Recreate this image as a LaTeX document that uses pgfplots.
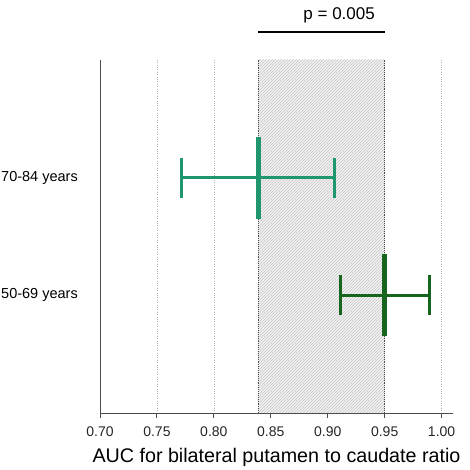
\documentclass[border=0pt]{standalone}
\usepackage{pgfplots}
\pgfplotsset{compat=1.18}
\usepackage{fontspec}
\setmainfont{Liberation Sans}
\usetikzlibrary{patterns}
\definecolor{teal1}{RGB}{32,150,110}
\definecolor{dkgreen}{RGB}{22,100,30}
\begin{document}
\begin{tikzpicture}
\begin{axis}[
  name=ax,
  scale only axis, width=353pt, height=353pt,
  xmin=0.70, xmax=1.01, ymin=0, ymax=3,
  axis lines*=left,
  axis line style={draw=black!70, line width=0.9pt},
  xtick={0.70,0.75,0.80,0.85,0.90,0.95,1.00},
  xticklabels={0.70,0.75,0.80,0.85,0.90,0.95,1.00},
  xticklabel style={font=\fontsize{14}{16}\selectfont, text=black!85, inner sep=0pt, yshift=-9pt},
  x tick style={draw=black!70, line width=0.9pt},
  tick align=outside, major tick length=5pt,
  ytick={1,2}, yticklabels={50-69 years,70-84 years},
  yticklabel style={font=\fontsize{14.5}{16}\selectfont, inner sep=0pt, xshift=-17pt},
  y tick style={draw=none},
  xmajorgrids, major grid style={dotted, gray!60},
  xlabel={AUC for bilateral putamen to caudate ratio},
  xlabel style={font=\fontsize{19.7}{22}\selectfont, at={(axis description cs:0.5,0)}, anchor=base, inner sep=0pt, yshift=-49pt},
  clip=false,
  /pgf/number format/assume math mode=true,
]
\addplot[draw=none, fill=gray!10] coordinates {(0.839,0) (0.839,3) (0.95,3) (0.95,0)} -- cycle;
\addplot[draw=none, pattern=north east lines, pattern color=gray!45] coordinates {(0.839,0) (0.839,3) (0.95,3) (0.95,0)} -- cycle;
\addplot[densely dotted, line width=1.1pt, black!70] coordinates {(0.839,0) (0.839,3)};
\addplot[densely dotted, line width=1.1pt, black!70] coordinates {(0.95,0) (0.95,3)};
\addplot[black, line width=1.5pt] coordinates {(0.839,3.24) (0.95,3.24)};
\node[font=\fontsize{17}{19}\selectfont, inner sep=0pt] at (axis cs:0.91,3.38) {p = 0.005};
% 70-84 years
\addplot[teal1, line width=3pt, mark=|, mark size=41pt, mark options={line width=5pt},
  error bars/.cd, x dir=both, x explicit, error mark=|,
  error mark options={mark size=20pt, line width=3pt, teal1}, error bar style={line width=3pt, teal1}]
  coordinates {(0.839,2) -= (0.067,0) += (0.067,0)};
% 50-69 years
\addplot[dkgreen, line width=3pt, mark=|, mark size=41pt, mark options={line width=5pt},
  error bars/.cd, x dir=both, x explicit, error mark=|,
  error mark options={mark size=20pt, line width=3pt, dkgreen}, error bar style={line width=3pt, dkgreen}]
  coordinates {(0.95,1) -= (0.039,0) += (0.039,0)};
\end{axis}
\path (ax.south west) ++(-100pt,-57pt) coordinate (bl);
\path (ax.south west) ++(369pt,413pt) coordinate (tr);
\path (bl) rectangle (tr);
\end{tikzpicture}
\end{document}
